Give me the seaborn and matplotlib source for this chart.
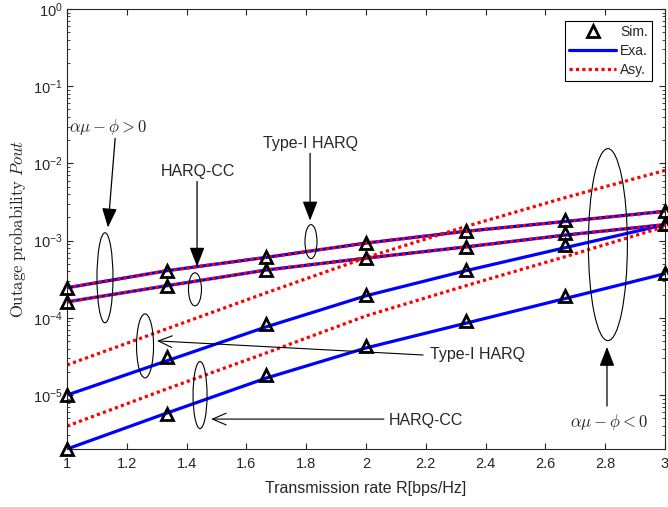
import numpy as np
import matplotlib as mpl
mpl.use('Agg')
import matplotlib.pyplot as plt
from matplotlib.patches import Ellipse
from matplotlib.lines import Line2D
import seaborn as sns
import pandas as pd

# transmission rate R [bps/Hz]
rate = [1.0, 4 / 3, 5 / 3, 2.0, 7 / 3, 8 / 3, 3.0]

# alpha*mu - phi > 0
exa_typei_pos = [2.45e-4, 4.07e-4, 6.07e-4, 9.29e-4, 1.32e-3, 1.77e-3, 2.40e-3]
exa_cc_pos = [1.61e-4, 2.60e-4, 4.16e-4, 5.93e-4, 8.28e-4, 1.18e-3, 1.61e-3]
asy_typei_pos = exa_typei_pos
asy_cc_pos = exa_cc_pos
sim_typei_pos = [2.45e-4, 4.1e-4, 6.1e-4, 9.3e-4, 1.33e-3, 1.85e-3, 2.42e-3]
sim_cc_pos = [1.6e-4, 2.6e-4, 4.2e-4, 6.0e-4, 8.3e-4, 1.25e-3, 1.62e-3]

# alpha*mu - phi < 0
exa_typei_neg = [1.0e-5, 2.77e-5, 7.64e-5, 1.93e-4, 4.07e-4, 8.11e-4, 1.61e-3]
exa_cc_neg = [2.0e-6, 5.83e-6, 1.66e-5, 4.07e-5, 8.5e-5, 1.78e-4, 3.73e-4]
asy_typei_neg = [2.45e-5, 7.2e-5, 2.11e-4, 6.02e-4, 1.52e-3, 3.61e-3, 8.11e-3]
asy_cc_neg = [3.96e-6, 1.20e-5, 3.51e-5, 1.06e-4, 2.6e-4, 6.2e-4, 1.52e-3]
sim_typei_neg = [1.0e-5, 3.1e-5, 8.2e-5, 2.0e-4, 4.2e-4, 8.8e-4, 1.65e-3]
sim_cc_neg = [2.0e-6, 5.6e-6, 1.8e-5, 4.3e-5, 9.2e-5, 1.9e-4, 3.85e-4]

legend_labels = ['Sim.', 'Exa.', 'Asy.']

sns.set_style('ticks')
plt.rcParams['font.family'] = ['Liberation Sans', 'DejaVu Sans']
plt.rcParams['mathtext.fontset'] = 'cm'

dark = '0.15'
fig = plt.figure(figsize=(6.68, 5.07), dpi=100)
ax = fig.add_axes([0.1003, 0.1144, 0.8952, 0.8679])
ax.set_yscale('log')

lw = 2.3
for ys in (exa_typei_pos, exa_cc_pos, exa_typei_neg, exa_cc_neg):
    sns.lineplot(x=rate, y=ys, ax=ax, color='b', lw=lw, sort=False, estimator=None)
for ys in (asy_typei_pos, asy_cc_pos, asy_typei_neg, asy_cc_neg):
    sns.lineplot(x=rate, y=ys, ax=ax, color='r', lw=lw, sort=False, estimator=None,
                 linestyle=(0, (1, 1)), dash_capstyle='butt')
for ys in (sim_typei_pos, sim_cc_pos, sim_typei_neg, sim_cc_neg):
    sns.lineplot(x=rate, y=ys, ax=ax, color='k', lw=0, sort=False, estimator=None,
                 marker='^', markersize=8.5, markerfacecolor='none', markeredgecolor='k',
                 markeredgewidth=2, clip_on=False, zorder=5)

ax.set_xlim(1, 3)
ax.set_ylim(2e-6, 1)
ax.set_xticks(np.arange(1, 3.01, 0.2))
ax.set_xticklabels(['1', '1.2', '1.4', '1.6', '1.8', '2', '2.2', '2.4', '2.6', '2.8', '3'])
ax.yaxis.set_major_locator(mpl.ticker.LogLocator(base=10, numticks=10))
ax.yaxis.set_minor_locator(mpl.ticker.LogLocator(base=10, subs=np.arange(2, 10), numticks=20))
ax.yaxis.set_minor_formatter(mpl.ticker.NullFormatter())

ax.tick_params(which='both', direction='in', top=True, right=True, colors=dark,
               labelsize=10.5)
ax.tick_params(which='major', length=4.5, width=0.8)
ax.tick_params(which='minor', length=2.5, width=0.6)
ax.tick_params(axis='x', pad=6)
ax.tick_params(axis='y', pad=3)
for sp in ax.spines.values():
    sp.set_color(dark)
    sp.set_linewidth(0.8)

ax.set_xlabel('Transmission rate R[bps/Hz]', fontsize=11.5, color=dark)
ax.xaxis.set_label_coords(0.5, -0.073)
ax.set_ylabel(r'$\mathrm{Outage\ probability}\ Pout$', fontsize=12, color=dark)
ax.yaxis.set_label_coords(-0.066, 0.5)

# legend
handles = [
    Line2D([], [], color='k', lw=0, marker='^', markersize=8.5, markerfacecolor='none',
           markeredgewidth=2),
    Line2D([], [], color='b', lw=lw),
    Line2D([], [], color='r', lw=lw, linestyle=(0, (1, 1)), dash_capstyle='butt'),
]
leg = ax.legend(handles, legend_labels, loc='upper right', bbox_to_anchor=(0.978, 0.973),
                borderaxespad=0, fancybox=False, framealpha=1, edgecolor='k',
                fontsize=10, handlelength=3.4, handletextpad=0.25, labelspacing=0.35,
                borderpad=0.3)
leg.get_frame().set_linewidth(0.8)


def to_axes(x, y):
    return ax.transAxes.inverted().transform(ax.transData.transform((x, y)))


# ellipses: (R, value, width, height) with size in axes fraction
ellipses = [
    (1.127, 3.3e-4, 16 / 598, 90 / 440),
    (1.428, 2.34e-4, 13 / 598, 33 / 440),
    (1.816, 9.7e-4, 12 / 598, 34 / 440),
    (1.261, 4.33e-5, 17 / 598, 64 / 440),
    (1.445, 1.0e-5, 14 / 598, 67 / 440),
    (2.809, 8.87e-4, 39 / 598, 192 / 440),
]
for ex, ey, ew, eh in ellipses:
    cx, cy = to_axes(ex, ey)
    ax.add_patch(Ellipse((cx, cy), ew, eh, transform=ax.transAxes, fill=False,
                         edgecolor='k', lw=0.8, zorder=6))

filled = dict(arrowstyle='-|>,head_length=0.85,head_width=0.33', color='k', lw=0.9,
              shrinkA=0, shrinkB=0, mutation_scale=14)
opened = dict(arrowstyle='->,head_length=0.7,head_width=0.3', color='k', lw=0.8,
              shrinkA=0, shrinkB=0, mutation_scale=14)

ax.annotate('', xy=(1.137, 1.48e-3), xytext=(1.161, 0.0211), arrowprops=filled)
ax.text(1.137, 0.0294, r'$\alpha\mu-\phi>0$', fontsize=12, ha='center', va='center')

ax.annotate('', xy=(1.435, 4.6e-4), xytext=(1.435, 5.83e-3), arrowprops=filled)
ax.text(1.438, 7.87e-3, 'HARQ-CC', fontsize=11.5, ha='center', va='center')

ax.annotate('', xy=(1.813, 1.82e-3), xytext=(1.813, 0.0135), arrowprops=filled)
ax.text(1.816, 0.0182, 'Type-I HARQ', fontsize=11.5, ha='center', va='center')

ax.annotate('', xy=(1.301, 5.03e-5), xytext=(2.191, 3.3e-5), arrowprops=opened)
ax.text(2.214, 3.3e-5, 'Type-I HARQ', fontsize=11.5, ha='left', va='center')

ax.annotate('', xy=(1.482, 4.88e-6), xytext=(2.060, 4.88e-6), arrowprops=opened)
ax.text(2.077, 4.7e-6, 'HARQ-CC', fontsize=11.5, ha='left', va='center')

ax.annotate('', xy=(2.806, 4.2e-5), xytext=(2.806, 7.2e-6), arrowprops=filled)
ax.text(2.813, 4.46e-6, r'$\alpha\mu-\phi<0$', fontsize=12, ha='center', va='center')

fig.savefig('out.png', dpi=100)
